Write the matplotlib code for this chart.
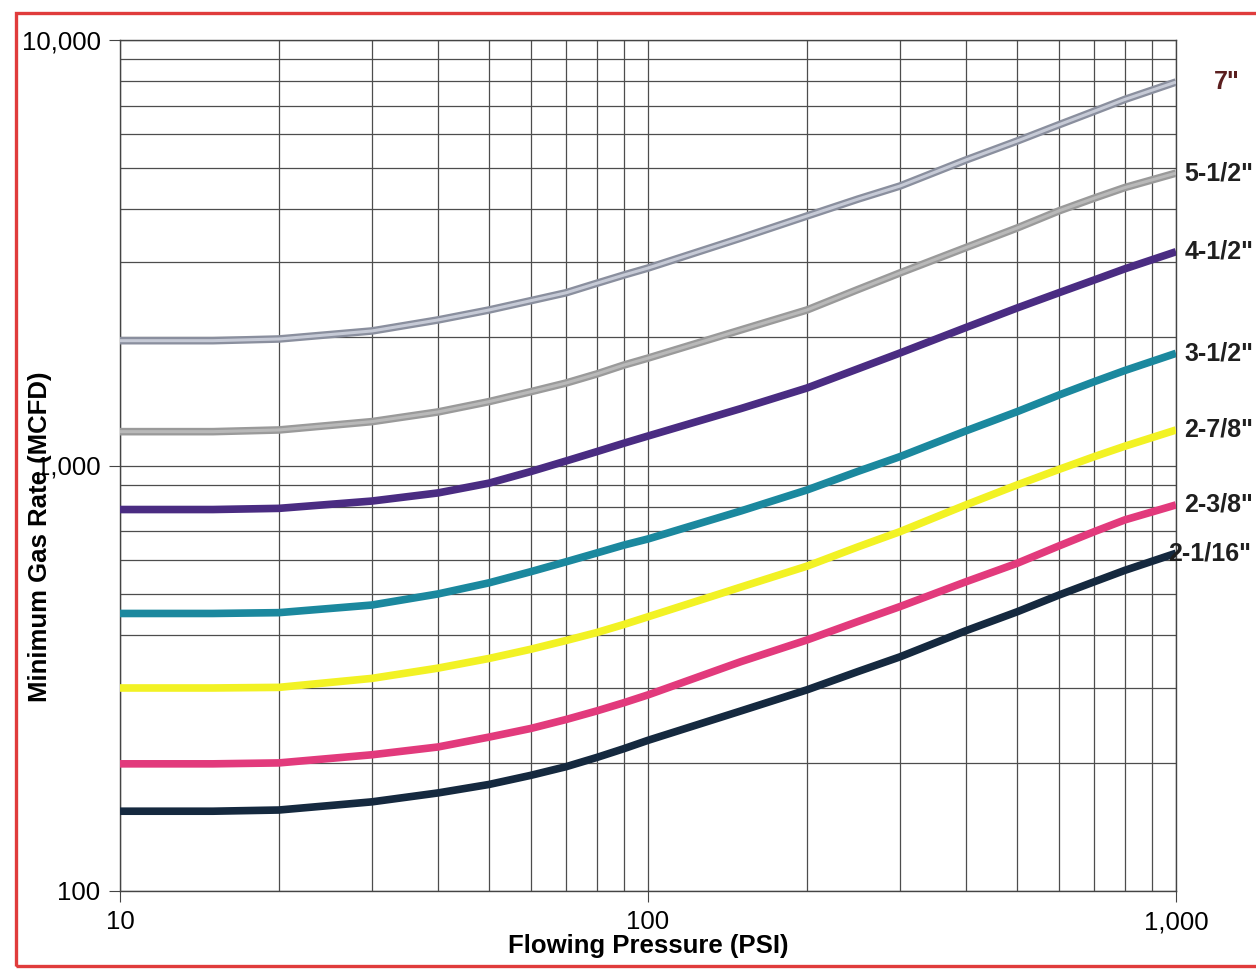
import matplotlib
matplotlib.use('Agg')
import matplotlib.pyplot as plt
from matplotlib.ticker import FuncFormatter, NullFormatter
from matplotlib.patches import Rectangle

plt.rcParams['font.family'] = ['Liberation Sans', 'DejaVu Sans']

# flowing pressure (psi)
pressure = [10, 15, 20, 30, 40, 50, 60, 70, 80, 90, 100,
            150, 200, 250, 300, 400, 500, 600, 700, 800, 1000]

# minimum gas rate (mcfd) per tubing size
q_7 = [1965, 1965, 1983, 2071, 2198, 2320, 2440, 2547, 2681, 2803, 2911,
       3425, 3858, 4229, 4537, 5224, 5788, 6320, 6800, 7250, 7966]
q_5_12 = [1201, 1201, 1212, 1268, 1336, 1413, 1491, 1563, 1641, 1722, 1788,
          2083, 2320, 2593, 2835, 3252, 3615, 3966, 4250, 4500, 4866]
q_4_12 = [788, 788, 793, 825, 862, 909, 968, 1025, 1078, 1128, 1173,
          1361, 1521, 1688, 1838, 2110, 2345, 2547, 2729, 2899, 3180]
q_3_12 = [449, 449, 451, 470, 499, 530, 563, 594, 623, 650, 672,
          782, 876, 969, 1049, 1206, 1338, 1464, 1574, 1672, 1835]
q_2_78 = [300, 300, 301, 316, 334, 352, 370, 388, 405, 423, 441,
          518, 580, 644, 699, 808, 900, 979, 1049, 1110, 1212]
q_2_38 = [199, 199, 200, 209, 218, 230, 241, 253, 265, 277, 289,
          346, 389, 430, 466, 533, 589, 647, 699, 745, 808]
q_2_116 = [154, 154, 155, 162, 170, 178, 187, 196, 206, 216, 226,
           265, 297, 328, 355, 409, 453, 496, 533, 567, 622]

labels = ['7"', '5-1/2"', '4-1/2"', '3-1/2"', '2-7/8"', '2-3/8"', '2-1/16"']
series = [q_7, q_5_12, q_4_12, q_3_12, q_2_78, q_2_38, q_2_116]
colors = ['#8a8f9e', '#9a9a9a', '#4a2c82', '#1b889e', '#f2f224', '#e23a7c', '#15293f']
inner = ['#c6cad6', '#b9b9b9', None, None, None, None, None]
label_dx = [27, 6, 6, 6, 6, 6, -6]
label_colors = ['#5b1f1f'] + ['#1f1f1f'] * 6

fig = plt.figure(figsize=(12.56, 9.69), dpi=100)
ax = fig.add_axes([120 / 1256, 1 - 891 / 969, 1056 / 1256, 851 / 969])
ax.set_xscale('log')
ax.set_yscale('log')
ax.set_xlim(10, 1000)
ax.set_ylim(100, 10000)

ax.grid(which='both', color='#4d4d4d', lw=0.9)
ax.set_axisbelow(True)

for q, c, ic, lab, dx, lc in zip(series, colors, inner, labels, label_dx, label_colors):
    ax.plot(pressure, q, color=c, lw=5.5, solid_capstyle='butt',
            solid_joinstyle='round', zorder=3)
    if ic:
        ax.plot(pressure, q, color=ic, lw=2.2, solid_capstyle='butt',
                solid_joinstyle='round', zorder=4)
    ax.annotate(lab, xy=(pressure[-1], q[-1]), xytext=(dx, 0),
                textcoords='offset points', va='center', ha='left',
                fontsize=18, fontweight='bold', color=lc, annotation_clip=False)

fmt = FuncFormatter(lambda v, p: f'{v:,.0f}')
ax.xaxis.set_major_formatter(fmt)
ax.yaxis.set_major_formatter(fmt)
ax.xaxis.set_minor_formatter(NullFormatter())
ax.yaxis.set_minor_formatter(NullFormatter())
ax.tick_params(which='minor', length=0)
ax.tick_params(which='major', length=8, color='#444444', labelsize=18.5, pad=6)
for s in ax.spines.values():
    s.set_color('#444444')
    s.set_linewidth(1)

ax.set_xlabel('Flowing Pressure (PSI)', fontsize=18.5, fontweight='bold', labelpad=0)
ax.set_ylabel('Minimum Gas Rate (MCFD)', fontsize=18.5, fontweight='bold')
ax.yaxis.set_label_coords(-0.064, 0.416)

# red frame round the scan
fig.patches.append(Rectangle((16 / 1256, 3 / 969), 1.05, 1 - 16 / 969,
                             transform=fig.transFigure, fill=False,
                             edgecolor='#e03c3c', lw=2.4))

fig.savefig('out.png', dpi=100)
